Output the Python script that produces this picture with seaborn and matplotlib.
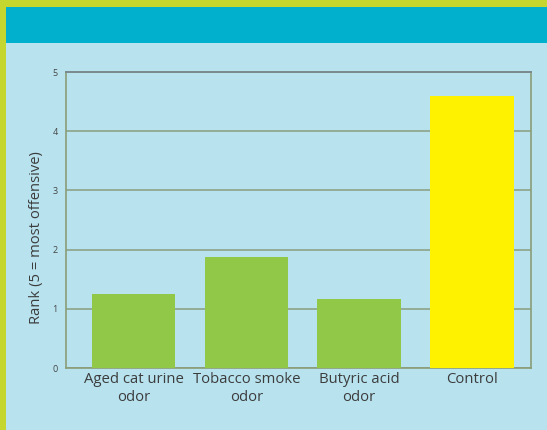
import matplotlib
matplotlib.use("Agg")
import matplotlib.pyplot as plt
import seaborn as sns
import pandas as pd
from matplotlib.patches import Rectangle

categories = ["Aged cat urine\nodor", "Tobacco smoke\nodor", "Butyric acid\nodor", "Control"]
values = [1.25, 1.87, 1.16, 4.6]
bar_colors = ["#92c847", "#92c847", "#92c847", "#fff200"]
yticks = [0, 1, 2, 3, 4, 5]
ylabel = "Rank (5 = most offensive)"

sns.set_theme(style="white")
plt.rcParams["font.family"] = ["Open Sans", "DejaVu Sans"]

bg = "#b7e2ee"
fig = plt.figure(figsize=(5.47, 4.30), dpi=100, facecolor=bg)

# frame decorations
fig.patches.append(Rectangle((0, 0), 6 / 547, 1, transform=fig.transFigure,
                             facecolor="#c5d72e", edgecolor="none", zorder=0))
fig.patches.append(Rectangle((0, 1 - 7 / 430), 1, 7 / 430, transform=fig.transFigure,
                             facecolor="#c5d72e", edgecolor="none", zorder=0))
fig.patches.append(Rectangle((6 / 547, 1 - 42.5 / 430), 1, 35.5 / 430, transform=fig.transFigure,
                             facecolor="#00b0cc", edgecolor="none", zorder=0))

ax = fig.add_axes([66 / 547, 62 / 430, 464.5 / 547, 296 / 430])
ax.set_facecolor(bg)

df = pd.DataFrame({"category": categories, "value": values})
sns.barplot(data=df, x="category", y="value", hue="category",
            palette=dict(zip(categories, bar_colors)), width=0.74,
            saturation=1, legend=False, ax=ax, zorder=3)
for p in ax.patches:
    p.set_edgecolor("none")

ax.set_xlim(-0.6, 3.52)
ax.set_ylim(0, 5)
ax.set_yticks(yticks)
ax.set_yticklabels([str(t) for t in yticks], fontsize=6.5, color="#454545")
ax.tick_params(axis="x", labelsize=10.7, colors="#3c3c3c", length=0, pad=3)
for lbl in ax.get_xticklabels():
    lbl.set_linespacing(1.25)
ax.tick_params(axis="y", length=2, width=1, color="#3c3c3c", pad=4)
ax.set_xlabel("")
ax.set_ylabel(ylabel, fontsize=10.6, color="#3c3c3c")
ax.yaxis.set_label_coords(-0.047, 0.441)

ax.yaxis.grid(True, color="#8a9d80", linewidth=1.1, zorder=1)
ax.set_axisbelow(True)
for side in ["left", "right", "bottom"]:
    ax.spines[side].set_color("#8a9d78")
    ax.spines[side].set_linewidth(1.2)
ax.spines["top"].set_color("#7a8a8e")
ax.spines["top"].set_linewidth(1.4)

fig.savefig("out.png", dpi=100, facecolor=bg)
